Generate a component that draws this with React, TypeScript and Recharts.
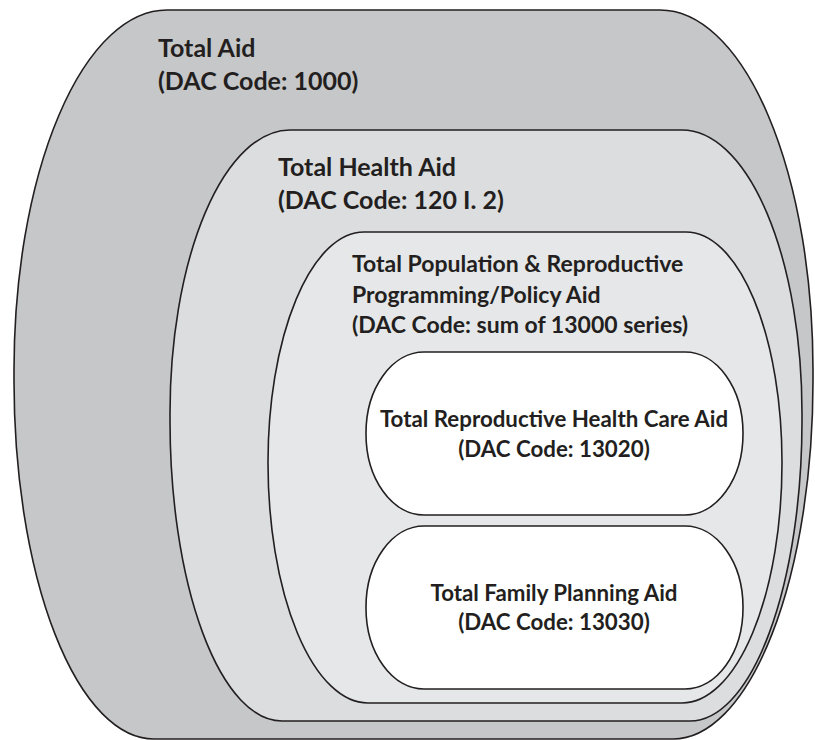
import { ComposedChart, XAxis, YAxis, ReferenceArea, ReferenceDot } from 'recharts'

// nested aid categories, outermost first
const regionTitles = [
  ['Total Aid'],
  ['Total Health Aid'],
  ['Total Population & Reproductive', 'Programming/Policy Aid'],
  ['Total Reproductive Health Care Aid'],
  ['Total Family Planning Aid'],
]
const dacCodes = ['1000', '120 I. 2', 'sum of 13000 series', '13020', '13030']

// extents of each region on the diagram grid (0..815 x 0..740)
const regionLeft = [14, 170, 268, 366, 366]
const regionRight = [813, 802, 782, 743, 743]
const regionTop = [10, 130, 232, 352, 526]
const regionBottom = [739, 721, 703, 515, 689]

// first baseline of each label
const labelX = [158, 278, 352, 554, 554]
const labelY = [57, 176, 272, 427, 601]

const W = 815
const H = 740
const INK = '#231f20'

const styles = [
  { fill: '#c6c7c9', rxT: 153, ryT: 360, rxB: 140, ryB: 358, size: 25, gap: 33, anchor: 'start' },
  { fill: '#dcdddf', rxT: 120, ryT: 283, rxB: 112, ryB: 300, size: 25, gap: 33, anchor: 'start' },
  { fill: '#e6e7e8', rxT: 96, ryT: 230, rxB: 100, ryB: 240, size: 23, gap: 30.5, anchor: 'start' },
  { fill: '#ffffff', rxT: 58, ryT: 81, rxB: 58, ryB: 81, size: 22.3, gap: 30, anchor: 'middle' },
  { fill: '#ffffff', rxT: 58, ryT: 81, rxB: 58, ryB: 81, size: 22.3, gap: 29, anchor: 'middle' },
]

function blobPath(x: number, y: number, w: number, h: number, s: any) {
  const ryT = Math.min(s.ryT, h / 2)
  const ryB = Math.min(s.ryB, h - ryT)
  return [
    `M${x + s.rxT},${y}`,
    `H${x + w - s.rxT}`,
    `A${s.rxT},${ryT} 0 0 1 ${x + w},${y + ryT}`,
    `V${y + h - ryB}`,
    `A${s.rxB},${ryB} 0 0 1 ${x + w - s.rxB},${y + h}`,
    `H${x + s.rxB}`,
    `A${s.rxB},${ryB} 0 0 1 ${x},${y + h - ryB}`,
    `V${y + ryT}`,
    `A${s.rxT},${ryT} 0 0 1 ${x + s.rxT},${y}`,
    'Z',
  ].join(' ')
}

export default function App() {
  return (
    <div style={{ position: 'absolute', left: 0, top: 0, background: '#fff' }}>
      <ComposedChart width={W} height={H} margin={{ top: 0, right: 0, bottom: 0, left: 0 }} data={[]}>
        <XAxis type="number" dataKey="x" domain={[0, W]} hide allowDataOverflow />
        <YAxis type="number" dataKey="y" domain={[0, H]} reversed hide allowDataOverflow />
        {regionTitles.map((_, i) => (
          <ReferenceArea
            key={'area' + i}
            x1={regionLeft[i]}
            x2={regionRight[i]}
            y1={regionTop[i]}
            y2={regionBottom[i]}
            ifOverflow="visible"
            shape={(p: any) => (
              <path
                d={blobPath(p.x, p.y, p.width, p.height, styles[i])}
                fill={styles[i].fill}
                stroke={INK}
                strokeWidth={1.6}
              />
            )}
          />
        ))}
        {regionTitles.map((title, i) => (
          <ReferenceDot
            key={'label' + i}
            x={labelX[i]}
            y={labelY[i]}
            r={0}
            ifOverflow="visible"
            shape={(p: any) => (
              <text
                x={p.cx}
                y={p.cy}
                fill={INK}
                fontFamily="Lato, 'Open Sans', sans-serif"
                fontWeight="bold"
                fontSize={styles[i].size}
                textAnchor={styles[i].anchor}
              >
                {[...title, `(DAC Code: ${dacCodes[i]})`].map((line, j) => (
                  <tspan key={j} x={p.cx} y={p.cy + j * styles[i].gap}>
                    {line}
                  </tspan>
                ))}
              </text>
            )}
          />
        ))}
      </ComposedChart>
    </div>
  )
}
